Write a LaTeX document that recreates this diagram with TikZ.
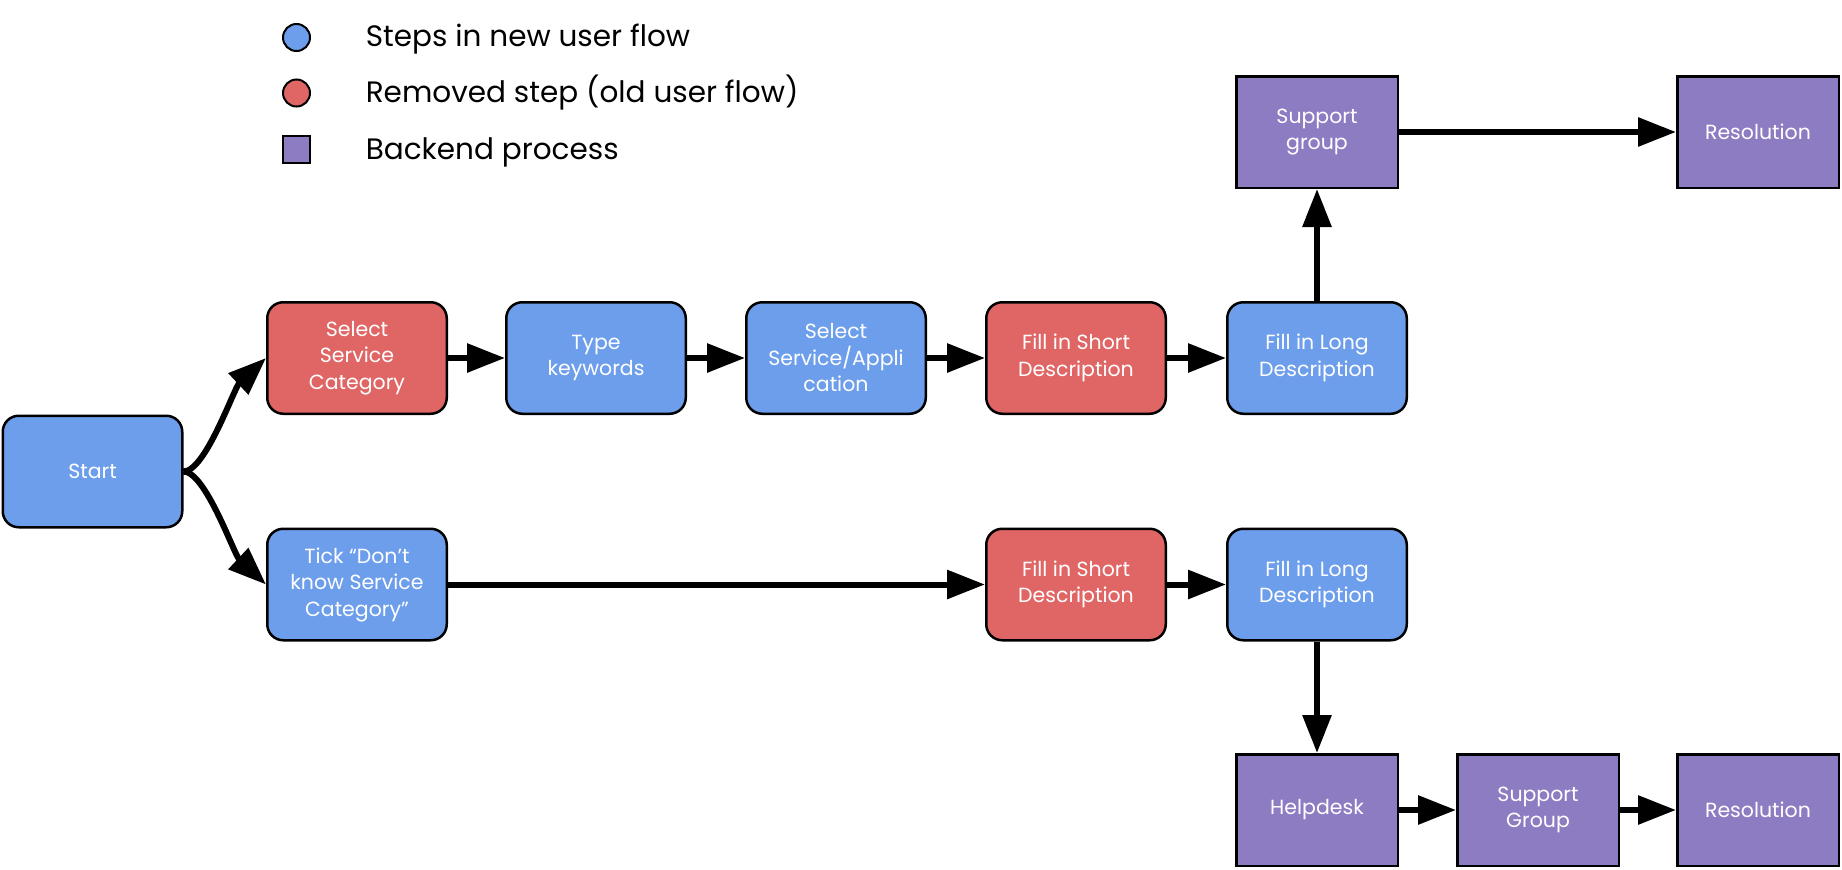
\documentclass[tikz,border=0pt]{standalone}
\usepackage{fontspec}
\setmainfont{Poppins}
\usetikzlibrary{arrows.meta}
\definecolor{cblue}{HTML}{6D9EEB}
\definecolor{cred}{HTML}{E06666}
\definecolor{cpurple}{HTML}{8E7CC3}
\tikzset{
  stepbox/.style={draw=black, line width=2.5pt, rounded corners=16pt,
    minimum width=179.5pt, minimum height=111.5pt, text=white, align=center,
    font=\fontsize{20.5}{26.5}\selectfont, inner sep=0pt},
  bluebox/.style={stepbox, fill=cblue},
  redbox/.style={stepbox, fill=cred},
  backbox/.style={draw=black, line width=2.5pt, fill=cpurple,
    minimum width=161.5pt, minimum height=111.5pt, text=white, align=center,
    font=\fontsize{20.5}{26.5}\selectfont, inner sep=0pt},
  flow/.style={line width=6pt, -{Triangle[length=38pt,width=28pt]}},
  legtext/.style={anchor=base west, font=\fontsize{29.5}{36}\selectfont, inner sep=0pt, text=black},
  legmark/.style={draw=black, line width=2pt, minimum size=27pt, inner sep=0pt},
}
\begin{document}
\begin{tikzpicture}[x=1pt,y=-1pt]
\useasboundingbox (0,0) rectangle (1842,870);
\fill[white] (0,0) rectangle (1842,870);

% legend
\node[legmark, circle, fill=cblue] (lb) at (296.5,37.5) {};
\node[legmark, circle, fill=cred] (lr) at (296.5,93) {};
\node[legmark, rectangle, fill=cpurple] (lp) at (296.5,149.5) {};
\node[legtext] (tb) at (365.6,46.5) {Steps in new user flow};
\node[legtext] (tr) at (365.6,102.7) {Removed step (old user flow)};
\node[legtext] (tp) at (365.6,159.3) {Backend process};

% nodes
\node[bluebox] (start) at (92.5,471.5) {Start};
\node[redbox] (sel) at (357,358) {Select\\Service\\Category};
\node[bluebox] (type) at (596,358) {Type\\keywords};
\node[bluebox] (selapp) at (836,358) {Select\\Service/Appli\\cation};
\node[redbox] (fst) at (1076,358) {Fill in Short\\Description};
\node[bluebox] (flt) at (1317,358) {Fill in Long\\Description};
\node[backbox] (sgt) at (1317,132) {Support\\group};
\node[backbox] (rest) at (1758,132) {Resolution};

\node[bluebox] (tick) at (357,584.5) {Tick “Don’t\\know Service\\Category”};
\node[redbox] (fsb) at (1076,584.5) {Fill in Short\\Description};
\node[bluebox] (flb) at (1317,584.5) {Fill in Long\\Description};
\node[backbox] (help) at (1317,810) {Helpdesk};
\node[backbox] (sgb) at (1538,810) {Support\\Group};
\node[backbox] (resb) at (1758,810) {Resolution};

% connectors
\draw[flow] (start.east) .. controls +(22,0) and +(-32,30) .. (sel.west);
\draw[flow] (start.east) .. controls +(22,0) and +(-32,-30) .. (tick.west);
\draw[flow] (sel) -- (type);
\draw[flow] (type) -- (selapp);
\draw[flow] (selapp) -- (fst);
\draw[flow] (fst) -- (flt);
\draw[flow] (flt) -- (sgt);
\draw[flow] (sgt) -- (rest);
\draw[flow] (tick) -- (fsb);
\draw[flow] (fsb) -- (flb);
\draw[flow] (flb) -- (help);
\draw[flow] (help) -- (sgb);
\draw[flow] (sgb) -- (resb);
\end{tikzpicture}
\end{document}
